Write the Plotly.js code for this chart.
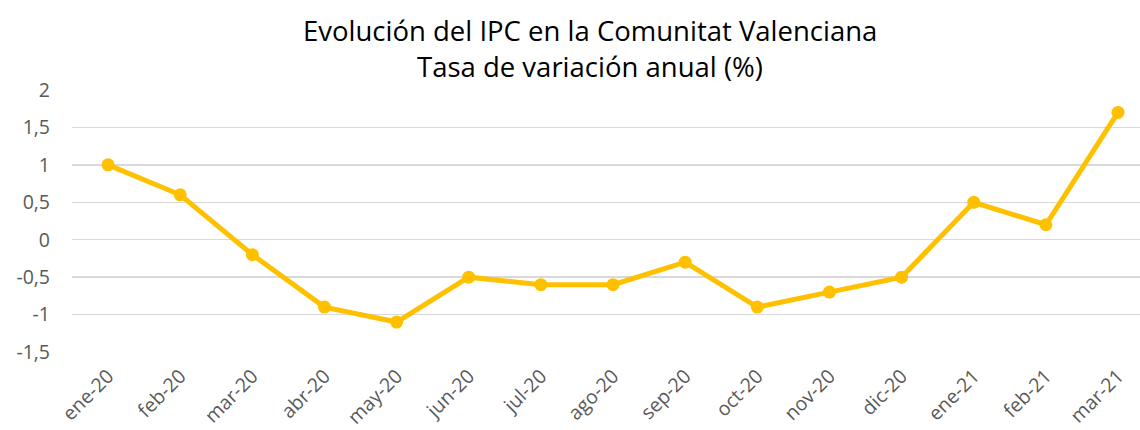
<!DOCTYPE html>
<html>
<head>
<meta charset="utf-8">
<script src="https://cdn.plot.ly/plotly-3.0.1.min.js"></script>
<style>html,body{margin:0;padding:0;background:#fff;}#chart{width:1140px;height:430px;}</style>
</head>
<body>
<div id="chart"></div>
<script>
const months = ["ene-20","feb-20","mar-20","abr-20","may-20","jun-20","jul-20","ago-20","sep-20","oct-20","nov-20","dic-20","ene-21","feb-21","mar-21"];
const ipc = [1.0, 0.6, -0.2, -0.9, -1.1, -0.5, -0.6, -0.6, -0.3, -0.9, -0.7, -0.5, 0.5, 0.2, 1.7];
const yTicks = [-1.5, -1, -0.5, 0, 0.5, 1, 1.5, 2];
const yTickText = ["-1,5", "-1", "-0,5", "0", "0,5", "1", "1,5", "2"];
const titleLines = ["Evolución del IPC en la Comunitat Valenciana", "Tasa de variación anual (%)"];

const trace = {
  x: months,
  y: ipc,
  type: 'scatter',
  mode: 'lines+markers',
  line: {color: '#FFC000', width: 5},
  marker: {color: '#FFC000', size: 13},
  hoverinfo: 'x+y'
};

const titleFont = {family: 'Open Sans, sans-serif', size: 27.5, color: '#000000'};

const layout = {
  width: 1140,
  height: 430,
  margin: {l: 72, r: 0, t: 90, b: 78},
  paper_bgcolor: '#ffffff',
  plot_bgcolor: '#ffffff',
  font: {family: 'Open Sans, sans-serif', color: '#595959'},
  annotations: [
    {text: titleLines[0], xref: 'paper', yref: 'paper', x: 0.485, y: 1.229,
     xanchor: 'center', yanchor: 'middle', showarrow: false, font: titleFont},
    {text: titleLines[1], xref: 'paper', yref: 'paper', x: 0.485, y: 1.088,
     xanchor: 'center', yanchor: 'middle', showarrow: false, font: titleFont}
  ],
  xaxis: {
    type: 'category',
    range: [-0.5, 14.305],
    showgrid: false,
    showline: false,
    zeroline: false,
    ticks: '',
    tickangle: -45,
    ticklabelstandoff: 8,
    tickfont: {size: 19.5, color: '#595959'},
    fixedrange: true
  },
  yaxis: {
    range: [-1.5, 2],
    tickvals: yTicks,
    ticktext: yTickText,
    showgrid: true,
    gridcolor: '#D9D9D9',
    gridwidth: 1.3,
    zeroline: false,
    showline: false,
    ticks: '',
    ticklabelstandoff: 21,
    tickfont: {size: 19.5, color: '#595959'},
    fixedrange: true
  },
  showlegend: false
};

Plotly.newPlot('chart', [trace], layout, {displayModeBar: false, staticPlot: true});
</script>
</body>
</html>
